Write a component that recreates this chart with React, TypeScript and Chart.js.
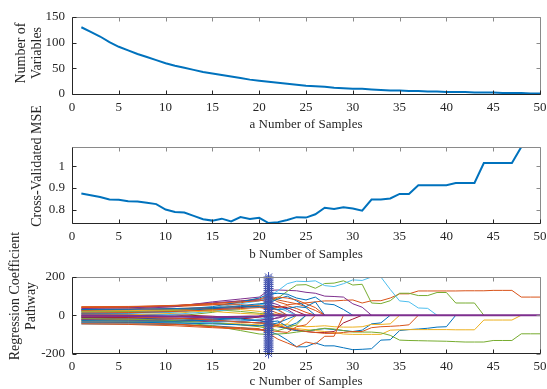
import React, { useEffect, useRef } from "react";
import { Chart, registerables } from "chart.js";

Chart.register(...registerables);

// ---------------- data ----------------
const samples = [1,2,3,4,5,6,7,8,9,10,11,12,13,14,15,16,17,18,19,20,21,22,23,24,25,26,27,28,29,30,31,32,33,34,35,36,37,38,39,40,41,42,43,44,45,46,47,48,49,50];
const xTicks = [0,5,10,15,20,25,30,35,40,45,50];

const numberOfVariables = [130,121,112,101,92,85,78,72,66,60,55,51,47,43,40,37,34,31,28,26,24,22,20,18,16,15,14,12,11,10,10,9,8,7,7,6,6,5,5,4,4,4,3,3,3,2,2,2,1,1];
const variablesTicks = [0,50,100,150];

const crossValidatedMse = [0.874,0.866,0.858,0.846,0.845,0.838,0.837,0.831,0.825,0.800,0.789,0.786,0.771,0.755,0.749,0.758,0.745,0.765,0.757,0.762,0.738,0.742,0.752,0.765,0.763,0.778,0.808,0.803,0.811,0.805,0.795,0.846,0.846,0.851,0.872,0.872,0.912,0.912,0.912,0.912,0.922,0.922,0.922,1.014,1.014,1.014,1.014,1.088,1.088,1.088];
const mseTicks = [0.8,0.9,1];
const mseRange = [0.738,1.088];

const coefTicks = [-200,0,200];
// first six values sit at these sample numbers, the rest at 21, 22, 23, ...
const pathKnots = [1,6,11,15,18,20];
const pA = [15,18,25,40,60,75, 98,128,165,178,176,180,155,150,165,185,182,200,200,135,75,70,38,36,0];
const pB = [-8,-10,-5,15,40,55, 73,90,125,158,160,141,166,168,180,158,162,64,61,76,115,115,103,103,119,119,64,64,64,0];
const pC = [38,40,45,55,65,80, 95,70,55,60,65,70,75,75,78,80,64,76,76,90,112,112,127,127,127,127,127,128,128,128,130,130,130,95,95,95];
const pF = [-22,-25,-35,-55,-80,-98, -100,-98,-95,-88,-82,-75,-68,-72,-80,-88,-88,-88,-92,-105,-130,-132,-133,-134,-135,-136,-138,-140,-140,-140,-132,-132,-132,-97,-97,-97];
const pD = [-30,-32,-35,-40,-45,-50, -55,-60,-65,-70,-75,-80,-85,-90,-98,-100,-100,-100,-100,-78,-76,-75,-75,-75,-75,-75,-76,-76,-76,-25,-25,-25,-25,0];
const pH = [-20,-22,-25,-30,-35,-40, -42,-48,-50,-55,-60,-58,-55,-60,-62,-62,-60,-48,-48,-45,0];
const pE = [-45,-46,-48,-55,-65,-75, -85,-100,-130,-165,-165,-145,-160,-160,-170,-180,-178,-175,-130,-128,-80,-75,-72,-68,-62,-60,0];
const pI = [-5,-8,-15,-25,-35,-40, -45,-55,-65,-75,-85,-90,-95,-95,-90,-85,-85,-65,-60,-58,-55,-50,0];
const pJ = [-12,-15,-20,-25,-35,-40, -50,-60,-70,-80,-85,-75,-70,-75,-80,-85,-78,-45,-40,0];
const pK = [5,5,3,-5,-15,-25, -40,-55,-70,-80,-85,-90,-90,-85,-40,-20,0];
const pL = [28,32,45,70,85,95, 130,132,130,128,120,115,100,98,95,60,42,0];
const pM = [20,22,30,45,70,90, 110,115,110,90,80,95,60,55,30,0];
const pQ = [-35,-38,-45,-60,-65,-70, -95,-125,-145,-165,-140,-150,-110,-110,0];
const pN = [10,12,20,35,50,60, 65,85,100,75,45,70,0];
const pO = [40,42,50,60,75,85, 100,80,70,60,45,25,0];
const pP = [30,32,35,40,45,50, 45,40,50,35,15,0];
const pR = [0,2,10,25,30,20, 10,5,0];
const pS = [-15,-18,-25,-35,-30,-25, -20,-15,0];
const pT = [-5,-3,5,20,35,45, 50,25,0];
const pU = [18,20,25,30,20,10, 5,0];
const pV = [-28,-30,-32,-25,-15,-5, 0];
const pW = [45,46,50,55,55,45, 30,10,0];
const pX = [25,26,30,35,40,45, 50,45,40,20,0];
const pY = [0,0,-5,-15,-20,-30, -35,-30,-60,-40,0];
const pZ = [-40,-42,-48,-60,-70,-75, -80,-85,-90,-60,-50,0];
const pAA = [-28,-29,-32,-40,-50,-55, -60,-60,-45,0];
const pAB = [35,38,50,65,75,80, 70,55,30,0];
const pAC = [-18,-20,-28,-40,-50,-60, -70,-80,-65,-50,0];
const pAD = [8,10,15,30,40,55, 60,40,20,0];
const pAE = [12,14,20,28,35,40, 35,30,0];
const pAF = [30,31,35,40,45,45, 40,30,35,45,40,0];
const pAG = [-10,-12,-15,-20,-18,-10, -5,0];
const pAH = [-45,-48,-55,-65,-72,-78, -70,-50,0];
const pAI = [-22,-25,-28,-30,-35,-40, -30,-10,0];
const pAJ = [42,44,52,62,70,75, 85,95,90,80,60,40,0];
const pAK = [-35,-36,-40,-45,-50,-55, -50,-40,-20,0];
const pAL = [-38,-40,-42,-38,-30,-20, -10,0];
const pAM = [22,24,28,20,10,5, 0];
const zeroPathX = [1,6,11,15,18,20,21,50];
const zeroPathY = [-3,-4,-6,-10,-8,-5,0,0];
const selectedSample = 21;
const starY = [-200,-190,-180,-170,-160,-150,-140,-130,-120,-110,-100,-90,-80,-70,-60,-50,-40,-30,-20,-10,0,10,20,30,40,50,60,70,80,90,100,110,120,130,140,150,160,170,180,190,200];

// ---------------- styles ----------------
const C_BLUE = "#0072BD", C_RED = "#D95319", C_YEL = "#EDB120", C_PUR = "#7E2F8E", C_GRN = "#77AC30", C_LBL = "#4DBEEE", C_DRD = "#A2142F";
const paths = [pE, pC, pD, pL, pB, pA, pK, pJ, pO, pH, pAB, pF, pAD, pX, pM, pW, pR, pS, pU, pT, pAG, pN, pZ, pAA, pAI, pAC, pAL, pV, pY, pQ, pAM, pAK, pP, pAE, pAF, pAH, pAJ, pI];
const pathColors = [C_BLUE, C_RED, C_YEL, C_PUR, C_GRN, C_LBL, C_DRD, C_BLUE, C_RED, C_YEL, C_PUR, C_GRN, C_LBL, C_DRD, C_BLUE, C_RED, C_YEL, C_PUR, C_GRN, C_LBL, C_DRD, C_BLUE, C_RED, C_YEL, C_PUR, C_GRN, C_LBL, C_BLUE, C_BLUE, C_RED, C_YEL, C_BLUE, C_RED, C_RED, C_BLUE, C_RED, C_RED, C_RED];

const FONT = "'Liberation Serif', 'Times New Roman', serif";
const TXT = "#262626";
const W = 547;
const H = 389;
const PLOT_LEFT = 72;
const PLOT_RIGHT = 540;

const framePlugin = {
  id: "matlabFrame",
  afterDatasetsDraw(chart: any) {
    const { ctx, chartArea } = chart;
    const xs = chart.scales.x, ys = chart.scales.y;
    const L = Math.floor(chartArea.left) + 0.5;
    const R = Math.floor(chartArea.right) + 0.5;
    const T = Math.floor(chartArea.top) + 0.5;
    const B = Math.floor(chartArea.bottom) + 0.5;
    const tl = 4;
    ctx.save();
    ctx.lineWidth = 1;
    ctx.strokeStyle = "#8a8a8a";
    ctx.beginPath();
    ctx.moveTo(L, T); ctx.lineTo(R, T); ctx.lineTo(R, B);
    for (const t of xs.ticks) { const p = Math.round(xs.getPixelForValue(t.value)) + 0.5; ctx.moveTo(p, T); ctx.lineTo(p, T + tl); }
    for (const t of ys.ticks) { const p = Math.round(ys.getPixelForValue(t.value)) + 0.5; ctx.moveTo(R, p); ctx.lineTo(R - tl, p); }
    ctx.stroke();
    ctx.strokeStyle = TXT;
    ctx.beginPath();
    ctx.moveTo(L, T); ctx.lineTo(L, B); ctx.lineTo(R, B);
    for (const t of xs.ticks) { const p = Math.round(xs.getPixelForValue(t.value)) + 0.5; ctx.moveTo(p, B); ctx.lineTo(p, B - tl); }
    for (const t of ys.ticks) { const p = Math.round(ys.getPixelForValue(t.value)) + 0.5; ctx.moveTo(L, p); ctx.lineTo(L + tl, p); }
    ctx.stroke();
    ctx.restore();
  },
};

// vertical axis label, drawn as canvas text at the place MATLAB put it
const yLabelPlugin = {
  id: "yLabel",
  afterDraw(chart: any, _a: any, opts: any) {
    const lines = opts && opts.lines;
    if (!lines) return;
    const { ctx } = chart;
    ctx.save();
    ctx.fillStyle = TXT;
    ctx.font = `14px ${FONT}`;
    ctx.textAlign = "center";
    ctx.textBaseline = "middle";
    for (const ln of lines) {
      ctx.save();
      ctx.translate(ln.x, ln.y);
      ctx.rotate(-Math.PI / 2);
      ctx.fillText(ln.text, 0, 0);
      ctx.restore();
    }
    ctx.restore();
  },
};

function makeOptions(p: {
  padTop: number; padBottom: number; xHeight: number; yMin: number; yMax: number; yTicks: number[];
  yLines: { text: string; x: number; y: number }[]; xTitle: string;
}) {
  return {
    responsive: false,
    animation: false as const,
    events: [] as any[],
    layout: { padding: { top: p.padTop, right: W - PLOT_RIGHT, left: 0, bottom: p.padBottom } },
    plugins: { legend: { display: false }, tooltip: { enabled: false }, yLabel: { lines: p.yLines } },
    scales: {
      x: {
        type: "linear" as const,
        min: 0, max: 50,
        grid: { display: false, drawTicks: false },
        border: { display: false },
        afterBuildTicks: (s: any) => { s.ticks = xTicks.map((v) => ({ value: v })); },
        afterFit: (s: any) => { s.height = p.xHeight; s.paddingLeft = 0; s.paddingRight = 0; },
        ticks: { padding: 6, autoSkip: false, maxRotation: 0, color: TXT, font: { family: FONT, size: 13, lineHeight: 1.1 }, callback: (v: any) => String(v) },
        title: { display: true, text: p.xTitle, color: TXT, padding: { top: 0, bottom: 0 }, font: { family: FONT, size: 13, lineHeight: 1.1 } },
      },
      y: {
        type: "linear" as const,
        min: p.yMin, max: p.yMax,
        grid: { display: false, drawTicks: false },
        border: { display: false },
        afterBuildTicks: (s: any) => { s.ticks = p.yTicks.map((v) => ({ value: v })); },
        afterFit: (s: any) => { s.width = PLOT_LEFT; s.paddingTop = 0; s.paddingBottom = 0; },
        ticks: { padding: 7, autoSkip: false, color: TXT, font: { family: FONT, size: 13, lineHeight: 1.1 }, callback: (v: any) => String(v) },
        title: { display: false },
      },
    },
  };
}

function Panel({ build }: { build: () => any }) {
  const ref = useRef<HTMLCanvasElement | null>(null);
  useEffect(() => {
    if (!ref.current) return;
    const chart = new Chart(ref.current, build());
    return () => chart.destroy();
  }, []);
  return (
    <canvas
      ref={ref}
      width={W}
      height={H}
      style={{ position: "absolute", left: 0, top: 0, width: W, height: H, display: "block" }}
    />
  );
}

function buildTop() {
  return {
    type: "line",
    data: {
      datasets: [{
        data: samples.map((x, i) => ({ x, y: numberOfVariables[i] })),
        borderColor: C_BLUE, borderWidth: 2, pointRadius: 0, tension: 0,
      }],
    },
    options: makeOptions({
      padTop: 17, padBottom: H - 132, xHeight: 132 - 94, yMin: 0, yMax: 150, yTicks: variablesTicks,
      yLines: [{ text: "Number of", x: 21, y: 53 }, { text: "Variables", x: 37, y: 53 }],
      xTitle: "a Number of Samples",
    }),
    plugins: [framePlugin, yLabelPlugin],
  };
}

function buildMid() {
  return {
    type: "line",
    data: {
      datasets: [{
        data: samples.map((x, i) => ({ x, y: crossValidatedMse[i] })),
        borderColor: C_BLUE, borderWidth: 2, pointRadius: 0, tension: 0,
      }],
    },
    options: makeOptions({
      padTop: 147, padBottom: H - 262, xHeight: 262 - 223, yMin: mseRange[0], yMax: mseRange[1], yTicks: mseTicks,
      yLines: [{ text: "Cross-Validated MSE", x: 37.5, y: 166 }],
      xTitle: "b Number of Samples",
    }),
    plugins: [framePlugin, yLabelPlugin],
  };
}

function buildBottom() {
  const pathSets = paths.map((vals, k) => ({
    data: vals.map((y, i) => ({ x: i < pathKnots.length ? pathKnots[i] : 15 + i, y })),
    borderColor: pathColors[k], borderWidth: 1, pointRadius: 0, tension: 0,
  }));
  const zeroSet = {
    data: zeroPathX.map((x, i) => ({ x, y: zeroPathY[i] })),
    borderColor: C_PUR, borderWidth: 2, pointRadius: 0, tension: 0,
  };
  const starSet = {
    data: starY.map((y) => ({ x: selectedSample, y })),
    showLine: false, clip: false as any,
    pointStyle: "star", pointRadius: 5, pointBorderWidth: 1,
    pointBorderColor: "#4050AE", pointBackgroundColor: "#4050AE",
    borderColor: "#4050AE",
  };
  // Chart.js paints the first dataset last (on top)
  const datasets = [starSet, zeroSet, ...pathSets.slice().reverse()];
  return {
    type: "line",
    data: { datasets },
    options: makeOptions({
      padTop: 277, padBottom: 0, xHeight: H - 353.5, yMin: -200, yMax: 200, yTicks: coefTicks,
      yLines: [{ text: "Regression Coefficient", x: 15, y: 296 }, { text: "Pathway", x: 31, y: 306 }],
      xTitle: "c Number of Samples",
    }),
    plugins: [framePlugin, yLabelPlugin],
  };
}

export default function App() {
  return (
    <div style={{ position: "absolute", left: 0, top: 0, width: W, height: H, background: "#fff", overflow: "hidden" }}>
      <Panel build={buildTop} />
      <Panel build={buildMid} />
      <Panel build={buildBottom} />
    </div>
  );
}
